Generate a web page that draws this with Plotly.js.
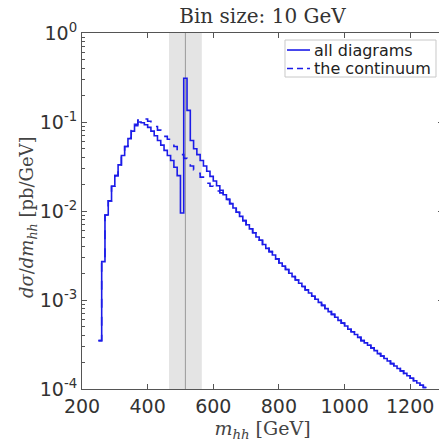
<!DOCTYPE html>
<html>
<head>
<meta charset="utf-8">
<script src="https://cdn.plot.ly/plotly-3.0.1.min.js"></script>
<style>
html, body { margin:0; padding:0; overflow:hidden; background:#fff; }
#chart { width:446px; height:445px; }
</style>
</head>
<body>
<div id="chart"></div>
<script>
// Histogram definition (10 GeV bins)
const BIN_START = 250;
const BIN_WIDTH = 10;

// d sigma / d m_hh [pb/GeV], one value per bin, "all diagrams"
const allDiagrams = [
  3.5e-4, 2.7e-3, 9.0e-3, 1.3e-2, 1.9e-2, 2.5e-2, 3.3e-2, 4.2e-2, 5.3e-2, 6.5e-2,
  7.9e-2, 9.1e-2, 0.100, 0.098, 0.093, 0.087, 0.079, 0.070, 0.062, 0.055,
  0.048, 0.042, 0.037, 0.031, 0.025, 0.0095, 0.31, 0.135, 0.062, 0.050,
  0.043, 0.037, 0.032, 0.028, 0.0245, 0.0217, 0.0192, 0.0171, 0.0152, 0.0135,
  0.0121, 0.0108, 0.0097, 0.0087, 0.0078, 0.0070, 0.0063, 0.0057, 0.0051, 0.0047,
  0.0042, 0.0038, 0.0035, 0.0032, 0.0029, 0.0026, 0.0024, 0.0022, 0.0020, 0.00183,
  0.00168, 0.00154, 0.00142, 0.00130, 0.00120, 0.00110, 0.00102, 0.00094, 0.00087, 0.00080,
  0.00074, 0.00069, 0.00064, 0.00059, 0.00055, 0.00051, 0.00047, 0.00044, 0.00041, 0.00038,
  0.00035, 0.00033, 0.00031, 0.00029, 0.00027, 0.00025, 0.000235, 0.00022, 0.000206, 0.000193,
  0.000181, 0.00017, 0.00016, 0.00015, 0.000141, 0.000132, 0.000124, 0.000117, 0.00011, 0.000104
];

// "the continuum"
const continuum = [
  3.5e-4, 2.7e-3, 9.0e-3, 1.3e-2, 1.9e-2, 2.5e-2, 3.3e-2, 4.2e-2, 5.3e-2, 6.6e-2,
  8.0e-2, 9.4e-2, 0.105, 0.110, 0.108, 0.102, 0.096, 0.089, 0.081, 0.074,
  0.069, 0.064, 0.059, 0.053, 0.048, 0.043, 0.039, 0.035, 0.032, 0.029,
  0.0265, 0.024, 0.022, 0.0205, 0.019, 0.0178, 0.0168, 0.0160, 0.0150, 0.0135,
  0.0121, 0.0108, 0.0097, 0.0087, 0.0078, 0.0070, 0.0063, 0.0057, 0.0051, 0.0047,
  0.0042, 0.0038, 0.0035, 0.0032, 0.0029, 0.0026, 0.0024, 0.0022, 0.0020, 0.00183,
  0.00168, 0.00154, 0.00142, 0.00130, 0.00120, 0.00110, 0.00102, 0.00094, 0.00087, 0.00080,
  0.00074, 0.00069, 0.00064, 0.00059, 0.00055, 0.00051, 0.00047, 0.00044, 0.00041, 0.00038,
  0.00035, 0.00033, 0.00031, 0.00029, 0.00027, 0.00025, 0.000235, 0.00022, 0.000206, 0.000193,
  0.000181, 0.00017, 0.00016, 0.00015, 0.000141, 0.000132, 0.000124, 0.000117, 0.00011, 0.000104
];

const seriesNames = ['all diagrams', 'the continuum'];

// Shaded window and resonance marker [GeV]
const bandRange = [465, 565];
const resonanceMass = 515;

// Axis ticks
const xTicks = [200, 400, 600, 800, 1000, 1200];
const yTickVals = [1e-4, 1e-3, 1e-2, 1e-1, 1];
const yTickText = ['10<sup>-4</sup>', '10<sup>-3</sup>', '10<sup>-2</sup>', '10<sup>-1</sup>', '10<sup>0</sup>'];
const yMinor = [];
[-4, -3, -2, -1].forEach(function (e) {
  for (let k = 2; k <= 9; k++) yMinor.push(k * Math.pow(10, e));
});

function stairs(vals) {
  const x = [], y = [];
  for (let i = 0; i < vals.length; i++) {
    x.push(BIN_START + i * BIN_WIDTH);
    y.push(vals[i]);
  }
  x.push(BIN_START + vals.length * BIN_WIDTH);
  y.push(vals[vals.length - 1]);
  return {x: x, y: y};
}

const s1 = stairs(allDiagrams);
const s2 = stairs(continuum);
const blue = 'rgb(28,28,232)';

const traces = [
  {x: s1.x, y: s1.y, type: 'scatter', mode: 'lines', name: seriesNames[0], showlegend: false,
   line: {shape: 'hv', color: blue, width: 1.6}},
  {x: s2.x, y: s2.y, type: 'scatter', mode: 'lines', name: seriesNames[1], showlegend: false,
   line: {shape: 'hv', color: blue, width: 1.6, dash: 'dash'}}
];

const axisFont = {family: 'DejaVu Sans', size: 19, color: '#333'};
const serifTitle = {family: 'DejaVu Serif, serif', size: 19, color: '#444'};

// Legend box (paper coordinates)
const LG = {x0: 0.5623, x1: 0.9806, y0: 0.8764, y1: 0.9803,
            rows: [0.9522, 0.9003], lx0: 0.5679, lx1: 0.6316, tx: 0.6371};

const shapes = [
  {type: 'rect', xref: 'x', yref: 'paper', x0: bandRange[0], x1: bandRange[1], y0: 0, y1: 1,
   fillcolor: '#e4e4e4', line: {width: 0}, layer: 'below'},
  {type: 'line', xref: 'x', yref: 'paper', x0: resonanceMass, x1: resonanceMass, y0: 0, y1: 1,
   line: {color: '#999', width: 1}, layer: 'below'},
  {type: 'rect', xref: 'paper', yref: 'paper', x0: LG.x0, x1: LG.x1, y0: LG.y0, y1: LG.y1,
   fillcolor: '#fff', line: {color: '#c8c8c8', width: 1}, layer: 'above'},
  {type: 'line', xref: 'paper', yref: 'paper', x0: LG.lx0, x1: LG.lx1, y0: LG.rows[0], y1: LG.rows[0],
   line: {color: blue, width: 1.6}, layer: 'above'},
  {type: 'line', xref: 'paper', yref: 'paper', x0: LG.lx0, x1: LG.lx1, y0: LG.rows[1], y1: LG.rows[1],
   line: {color: blue, width: 1.6, dash: '6px,4px'}, layer: 'above'}
];

const annotations = seriesNames.map(function (n, i) {
  return {xref: 'paper', yref: 'paper', x: LG.tx, y: LG.rows[i], xanchor: 'left', yanchor: 'middle',
          text: n, showarrow: false, font: {family: 'DejaVu Sans', size: 16, color: '#222'}};
});
// y-axis title, placed as a rotated annotation
annotations.push({xref: 'paper', yref: 'paper', x: -0.1496, y: 0.483, xanchor: 'center', yanchor: 'middle',
  textangle: -90, showarrow: false, font: {family: 'DejaVu Serif, serif', size: 18, color: '#444'},
  text: '<i>dσ</i>/<i>dm</i><sub><i>hh</i></sub> [pb/GeV]'});

const layout = {
  width: 446, height: 445,
  margin: {l: 82, r: 3, t: 33, b: 56},
  paper_bgcolor: '#fff', plot_bgcolor: '#fff',
  showlegend: false,
  title: {text: 'Bin size: 10 GeV', font: {family: 'DejaVu Serif, serif', size: 20, color: '#333'},
          x: 0.5, xref: 'paper', xanchor: 'center', y: 0.963, yref: 'container', yanchor: 'middle'},
  xaxis: {
    range: [200, 1300], tickvals: xTicks, ticks: 'inside', ticklen: 5, tickcolor: '#555',
    showline: true, linecolor: '#555', linewidth: 1, mirror: 'ticks',
    showgrid: false, zeroline: false, tickfont: axisFont, automargin: false,
    title: {text: '<i>m</i><sub><i>hh</i></sub> [GeV]', font: serifTitle, standoff: 2}
  },
  yaxis: {
    type: 'log', range: [-4, 0], tickvals: yTickVals, ticktext: yTickText,
    ticks: 'inside', ticklen: 5, tickcolor: '#555',
    minor: {tickvals: yMinor, ticks: 'inside', ticklen: 3, tickcolor: '#555', showgrid: false},
    showline: true, linecolor: '#555', linewidth: 1, mirror: 'ticks',
    showgrid: false, zeroline: false, tickfont: axisFont, automargin: false
  },
  shapes: shapes,
  annotations: annotations
};

Plotly.newPlot('chart', traces, layout, {displayModeBar: false, staticPlot: true});
</script>
</body>
</html>
